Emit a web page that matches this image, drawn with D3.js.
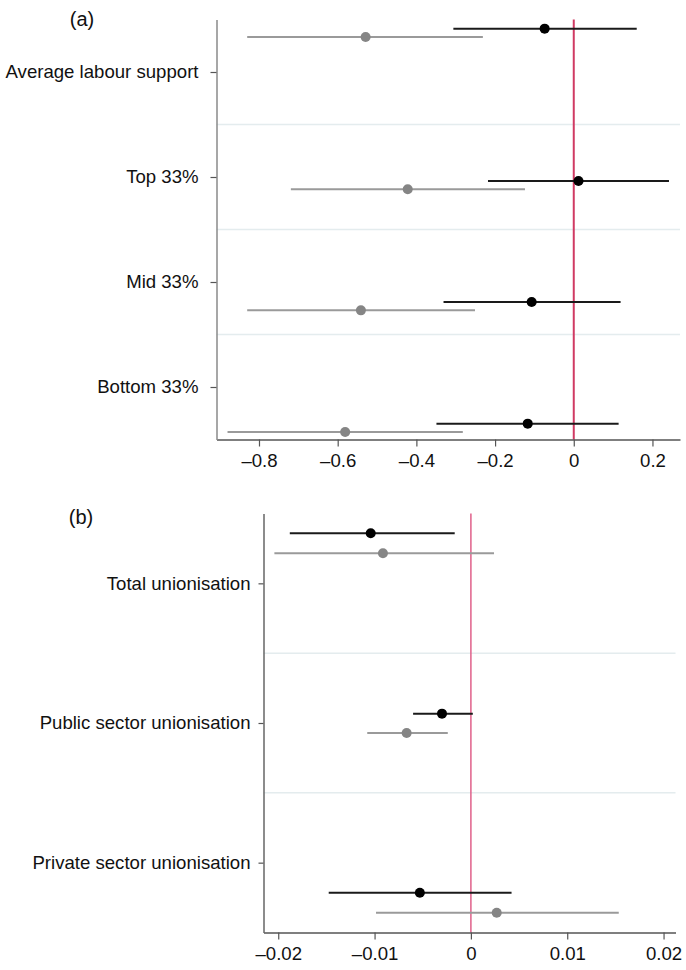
<!DOCTYPE html>
<html>
<head>
<meta charset="utf-8">
<script src="https://cdn.jsdelivr.net/npm/d3@7"></script>
<style>
  html, body { margin: 0; padding: 0; background: #fff; }
  svg { display: block; font-family: "Liberation Sans", Arial, Helvetica, sans-serif; }
</style>
</head>
<body>
<svg id="chart" width="686" height="970"></svg>
<script>
// ---------- Panel (a) data ----------
const catsA = ["Average labour support", "Top 33%", "Mid 33%", "Bottom 33%"];
// black series
const blackEstA = [-0.074, 0.012, -0.107, -0.117];
const blackLoA  = [-0.306, -0.218, -0.331, -0.349];
const blackHiA  = [0.160, 0.242, 0.119, 0.114];
const blackRowA = [-0.413, 1.038, 2.19, 3.349];   // vertical coordinate in row units
// grey series
const greyEstA = [-0.529, -0.422, -0.541, -0.581];
const greyLoA  = [-0.830, -0.719, -0.830, -0.880];
const greyHiA  = [-0.231, -0.124, -0.251, -0.282];
const greyRowA = [-0.333, 1.117, 2.27, 3.429];
const ticksA = [-0.8, -0.6, -0.4, -0.2, 0, 0.2];

// ---------- Panel (b) data ----------
const catsB = ["Total unionisation", "Public sector unionisation", "Private sector unionisation"];
const blackEstB = [-0.0104, -0.0030, -0.0053];
const blackLoB  = [-0.0188, -0.0060, -0.01476];
const blackHiB  = [-0.00168, 0.0002, 0.00422];
const blackRowB = [-0.358, 0.933, 2.215];
const greyEstB = [-0.00913, -0.00667, 0.00268];
const greyLoB  = [-0.0204, -0.01076, -0.00985];
const greyHiB  = [0.0024, -0.0024, 0.01535];
const greyRowB = [-0.215, 1.072, 2.358];
const ticksB = [-0.02, -0.01, 0, 0.01, 0.02];

const svg = d3.select("#chart");
const FONT = 18.6;

function fmtTick(dec) {
  const f = d3.format("." + dec + "f");
  return d => d === 0 ? "0" : f(d).replace("-", "\u2013").replace("\u2212", "\u2013");
}

function panel(cfg) {
  const g = svg.append("g");
  const x = d3.scaleLinear().domain(cfg.xDomain).range([cfg.left, cfg.right]);
  const y = d3.scaleLinear().domain([-0.5, cfg.cats.length - 0.5]).range([cfg.top, cfg.bottom]);

  // separators between rows
  const seps = d3.range(cfg.cats.length - 1).map(i => i + 0.5);
  g.selectAll("line.sep").data(seps).join("line")
    .attr("class", "sep")
    .attr("x1", cfg.left).attr("x2", cfg.right)
    .attr("y1", d => y(d)).attr("y2", d => y(d))
    .attr("stroke", "#e4ecee").attr("stroke-width", 1.5);

  // reference line at zero
  g.append("line")
    .attr("x1", x(0)).attr("x2", x(0))
    .attr("y1", cfg.top).attr("y2", cfg.bottom)
    .attr("stroke", cfg.refColor).attr("stroke-width", cfg.refWidth);

  // series
  const series = [
    { est: cfg.greyEst, lo: cfg.greyLo, hi: cfg.greyHi, row: cfg.greyRow, line: "#9a9a9a", dot: "#858585" },
    { est: cfg.blackEst, lo: cfg.blackLo, hi: cfg.blackHi, row: cfg.blackRow, line: "#1a1a1a", dot: "#000000" }
  ];
  series.forEach(s => {
    const data = s.est.map((e, i) => ({ est: e, lo: s.lo[i], hi: s.hi[i], row: s.row[i] }));
    g.append("g").selectAll("line").data(data).join("line")
      .attr("x1", d => x(d.lo)).attr("x2", d => x(d.hi))
      .attr("y1", d => y(d.row)).attr("y2", d => y(d.row))
      .attr("stroke", s.line).attr("stroke-width", 2);
    g.append("g").selectAll("circle").data(data).join("circle")
      .attr("cx", d => x(d.est)).attr("cy", d => y(d.row))
      .attr("r", 5).attr("fill", s.dot);
  });

  // x axis
  const xAxis = g.append("g")
    .attr("transform", `translate(0,${cfg.bottom})`)
    .call(d3.axisBottom(x).tickValues(cfg.ticks).tickFormat(fmtTick(cfg.dec))
      .tickSize(7).tickSizeOuter(0).tickPadding(7));
  xAxis.select(".domain").attr("stroke", "#555").attr("stroke-width", 1.5);
  xAxis.selectAll(".tick line").attr("stroke", "#555").attr("stroke-width", 1.2);
  xAxis.selectAll(".tick text").attr("font-size", FONT).attr("fill", "#111")
    .attr("font-family", "Liberation Sans, Arial, sans-serif");

  // y axis
  const yAxis = g.append("g")
    .attr("transform", `translate(${cfg.left},0)`)
    .call(d3.axisLeft(y).tickValues(d3.range(cfg.cats.length)).tickFormat(i => cfg.cats[i])
      .tickSize(cfg.yTick).tickSizeOuter(0).tickPadding(cfg.yPad));
  yAxis.select(".domain").attr("stroke", cfg.yAxisColor).attr("stroke-width", 1.5);
  yAxis.selectAll(".tick line").attr("stroke", "#555").attr("stroke-width", 1.2);
  yAxis.selectAll(".tick text").attr("font-size", FONT).attr("fill", "#111")
    .attr("font-family", "Liberation Sans, Arial, sans-serif");

  // panel label
  g.append("text")
    .attr("x", cfg.labelX).attr("y", cfg.labelY)
    .attr("text-anchor", "middle").attr("dy", "0.35em")
    .attr("font-size", 20).attr("fill", "#111")
    .text(cfg.label);
}

panel({
  cats: catsA, xDomain: [-0.908, 0.27], left: 216.5, right: 680, top: 19.5, bottom: 439.5,
  blackEst: blackEstA, blackLo: blackLoA, blackHi: blackHiA, blackRow: blackRowA,
  greyEst: greyEstA, greyLo: greyLoA, greyHi: greyHiA, greyRow: greyRowA,
  ticks: ticksA, dec: 1, refColor: "#d03a63", refWidth: 2, yAxisColor: "#8a8a8a",
  yTick: 6, yPad: 12, label: "(a)", labelX: 82, labelY: 19
});

panel({
  cats: catsB, xDomain: [-0.02153, 0.02124], left: 263.5, right: 675.5, top: 513.5, bottom: 932.5,
  blackEst: blackEstB, blackLo: blackLoB, blackHi: blackHiB, blackRow: blackRowB,
  greyEst: greyEstB, greyLo: greyLoB, greyHi: greyHiB, greyRow: greyRowB,
  ticks: ticksB, dec: 2, refColor: "#e0608a", refWidth: 1.5, yAxisColor: "#666",
  yTick: 5, yPad: 8, label: "(b)", labelX: 81, labelY: 517
});
</script>
</body>
</html>
